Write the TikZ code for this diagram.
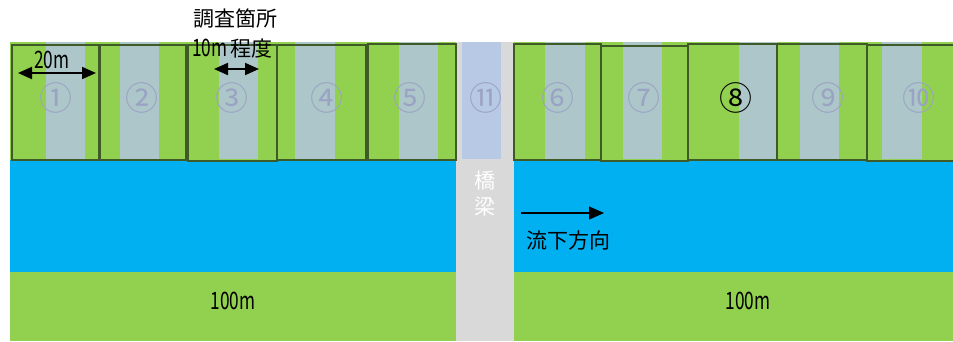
\documentclass[tikz,border=0pt]{standalone}
\usepackage{fontspec}
\setmainfont{Noto Sans CJK JP}
\usetikzlibrary{arrows.meta}
\definecolor{grn}{HTML}{92D050}
\definecolor{lgt}{HTML}{ADC6C9}
\definecolor{brg}{HTML}{B8C9E5}
\definecolor{riv}{HTML}{00B0F0}
\definecolor{gry}{HTML}{D9D9D9}
\definecolor{dkg}{HTML}{3D5A27}
\definecolor{numc}{HTML}{9BA3C4}
\tikzset{
  box/.style={draw=dkg, line width=2.6pt},
  num/.style={text=numc, font=\fontsize{33}{33}\selectfont, inner sep=0pt},
  lab/.style={text=black, font=\fontsize{21}{21}\selectfont, inner sep=0pt},
  dim/.style={line width=2pt, {Triangle[length=14pt,width=12pt]}-{Triangle[length=14pt,width=12pt]}},
  flow/.style={line width=1.3pt, -{Triangle[length=15pt,width=13pt]}}
}
\begin{document}
\begin{tikzpicture}[x=1pt,y=-1pt]
\useasboundingbox (0,0) rectangle (953,341);
% ground and river
\fill[grn] (10,42) rectangle (456,160);
\fill[grn] (514,42) rectangle (953,160);
\fill[riv] (10,160) rectangle (456,272);
\fill[riv] (514,160) rectangle (953,272);
\fill[grn] (10,272) rectangle (456,341);
\fill[grn] (514,272) rectangle (953,341);
\fill[gry] (456,42) rectangle (514,341);
% survey stripes
\foreach \a/\b in {46/85,120/159,219/258,295/335,399/438,545/585,623/662,739/777,800/839,882/922}
  \fill[lgt] (\a,42) rectangle (\b,159);
\fill[brg] (462,42) rectangle (501,159);
% section boxes
\draw[box] (12,45) rectangle (99,160);
\draw[box] (100,45) rectangle (186,160);
\draw[box] (188,45) rectangle (277,161);
\draw[box] (277,45) rectangle (366,160);
\draw[box] (368,44) rectangle (456,160);
\draw[box] (514,44) rectangle (601,160);
\draw[box] (601,46) rectangle (688,161);
\draw[box] (688,44) rectangle (777,160);
\draw[box] (777,44) rectangle (867,160);
\draw[box] (867,45) rectangle (957,161);
% numbers
\node[num] (n1) at (56,98) {①};
\node[num] (n2) at (142,98) {②};
\node[num] (n3) at (232,98) {③};
\node[num] (n4) at (327,98) {④};
\node[num] (n5) at (410,98) {⑤};
\node[num] (n11) at (486,98) {⑪};
\node[num] (n6) at (558,98) {⑥};
\node[num] (n7) at (644,98) {⑦};
\node[num, text=black] (n8) at (736,98) {⑧};
\node[num] (n9) at (828,98) {⑨};
\node[num] (n10) at (919,98) {⑩};
% labels
\node[lab] (t1) at (235,19) {調査箇所};
\node[lab, anchor=west] (t2) at (192,49) {\scalebox{0.72}[1]{\fontsize{24}{24}\selectfont 10m}\,程度};
\node[lab, anchor=west] (t20) at (34,60) {\scalebox{0.72}[1]{\fontsize{24}{24}\selectfont 20m}};
\coordinate (a1) at (18,73);
\coordinate (a2) at (96,73);
\draw[dim] (a1) -- (a2);
\coordinate (b1) at (214,69);
\coordinate (b2) at (259,69);
\draw[dim] (b1) -- (b2);
% bridge
\node[text=white, font=\fontsize{21}{21}\selectfont, inner sep=0pt] (k1) at (485,181) {橋};
\node[text=white, font=\fontsize{21}{21}\selectfont, inner sep=0pt] (k2) at (485,207) {梁};
% flow
\coordinate (f1) at (521,213);
\coordinate (f2) at (604,213);
\draw[flow] (f1) -- (f2);
\node[lab, anchor=west] (fl) at (526,241) {流下方向};
% lengths
\node[lab] (l1) at (233,301) {\scalebox{0.72}[1]{\fontsize{24}{24}\selectfont 100m}};
\node[lab] (l2) at (748,301) {\scalebox{0.72}[1]{\fontsize{24}{24}\selectfont 100m}};
\end{tikzpicture}
\end{document}
